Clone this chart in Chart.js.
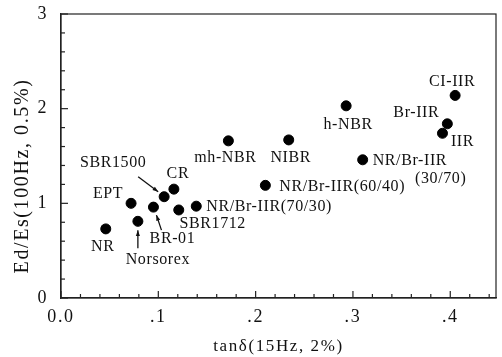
<!DOCTYPE html>
<html>
<head>
<meta charset="utf-8">
<script src="https://cdn.jsdelivr.net/npm/chart.js@4.4.1/dist/chart.umd.min.js"></script>
<style>
  html, body { margin: 0; padding: 0; background: #fff; }
  #wrap { width: 502px; height: 357px; }
</style>
</head>
<body>
<div id="wrap"><canvas id="c"></canvas></div>
<script>
// rubber grades: loss tangent vs dynamic/static modulus ratio
const names = ['NR', 'EPT', 'Norsorex', 'BR-01', 'SBR1500', 'CR', 'SBR1712', 'NR/Br-IIR(70/30)',
               'mh-NBR', 'NIBR', 'h-NBR', 'NR/Br-IIR(60/40)', 'NR/Br-IIR', 'Br-IIR', 'IIR', 'CI-IIR'];
const tanD = [0.046, 0.072, 0.079, 0.095, 0.106, 0.116, 0.121, 0.139,
              0.172, 0.234, 0.293, 0.210, 0.310, 0.397, 0.392, 0.405];
const edEs = [0.73, 1.00, 0.81, 0.96, 1.07, 1.15, 0.93, 0.97,
              1.66, 1.67, 2.03, 1.19, 1.46, 1.84, 1.74, 2.14];
const xTicks = [0, 0.1, 0.2, 0.3, 0.4];
const yTicks = [0, 1, 2, 3];
const yTitle = 'Ed/Es(100Hz, 0.5%)';

// label placement relative to its point (px), align
const labelPos = [[-3, 18, 'center'], [-23, -10, 'center'], [20, 38, 'center'], [19, 32, 'center'],
                  [-51, -34, 'center'], [4, -15, 'center'], [34, 14, 'center'], [10, 1, 'left'],
                  [-3, 17, 'center'], [2, 18, 'center'], [2, 19, 'center'], [14, 1, 'left'],
                  [10, 1, 'left'], [-31, -11, 'center'], [20, 9, 'center'], [-3, -14, 'center']];
const extraLabels = [{ idx: 12, text: '(30/70)', dx: 78, dy: 19 }];
// arrows: [point index, from dx, from dy, to dx, to dy]
const arrows = [[4, -26, -20, -6, -5], [3, 8, 23, 3, 8], [2, 0, 27, 0, 9]];

const FONT = '"Liberation Serif", "DejaVu Serif", serif';

const annotate = {
    id: 'annotate',
    beforeDraw(chart) { chart.ctx.letterSpacing = '1.6px'; },
    afterDatasetsDraw(chart) {
        const ctx = chart.ctx; const a = chart.chartArea;
        const xs = chart.scales.x; const ys = chart.scales.y;
        ctx.save();
        ctx.strokeStyle = '#222'; ctx.lineWidth = 1.2;
        ctx.strokeRect(a.left, a.top, a.right - a.left, a.bottom - a.top);
        // inward ticks
        for (let i = 0; i <= 22; i++) {
            const px = xs.getPixelForValue(i * 0.02);
            if (px > a.right - 1) break;
            const len = i % 5 === 0 ? 7 : 4;
            ctx.beginPath(); ctx.moveTo(px, a.bottom); ctx.lineTo(px, a.bottom - len); ctx.stroke();
        }
        for (let i = 0; i <= 15; i++) {
            const py = ys.getPixelForValue(i * 0.2);
            const len = i % 5 === 0 ? 7 : 4;
            ctx.beginPath(); ctx.moveTo(a.left, py); ctx.lineTo(a.left + len, py); ctx.stroke();
        }
        // y title, a bit below centre like the original
        ctx.save();
        ctx.translate(28, (a.top + a.bottom) / 2 + 20);
        ctx.rotate(-Math.PI / 2);
        ctx.fillStyle = '#111'; ctx.font = '20px ' + FONT;
        ctx.textAlign = 'center'; ctx.textBaseline = 'alphabetic';
        ctx.fillText(yTitle, 0, 0);
        ctx.restore();
        // labels
        const meta = chart.getDatasetMeta(0);
        ctx.letterSpacing = '0.6px';
        ctx.fillStyle = '#111'; ctx.font = '16px ' + FONT; ctx.textBaseline = 'middle';
        names.forEach((n, i) => {
            const p = meta.data[i]; const [dx, dy, al] = labelPos[i];
            ctx.textAlign = al;
            ctx.fillText(n, p.x + dx, p.y + dy);
        });
        extraLabels.forEach(l => {
            const p = meta.data[l.idx];
            ctx.textAlign = 'center';
            ctx.fillText(l.text, p.x + l.dx, p.y + l.dy);
        });
        // arrows
        ctx.lineWidth = 1.3; ctx.strokeStyle = '#111';
        arrows.forEach(([i, fx, fy, tx, ty]) => {
            const p = meta.data[i];
            const x1 = p.x + fx, y1 = p.y + fy, x2 = p.x + tx, y2 = p.y + ty;
            ctx.beginPath(); ctx.moveTo(x1, y1); ctx.lineTo(x2, y2); ctx.stroke();
            const ang = Math.atan2(y2 - y1, x2 - x1);
            ctx.beginPath();
            ctx.moveTo(x2, y2);
            ctx.lineTo(x2 - 6 * Math.cos(ang - 0.35), y2 - 6 * Math.sin(ang - 0.35));
            ctx.lineTo(x2 - 6 * Math.cos(ang + 0.35), y2 - 6 * Math.sin(ang + 0.35));
            ctx.closePath(); ctx.fill();
        });
        ctx.restore();
    },
    afterDraw(chart) { chart.ctx.letterSpacing = '0px'; }
};

new Chart(document.getElementById('c'), {
    type: 'scatter',
    data: {
        datasets: [{
            data: tanD.map((x, i) => ({ x: x, y: edEs[i] })),
            backgroundColor: '#000', borderColor: '#000',
            pointRadius: 5, pointHoverRadius: 5
        }]
    },
    options: {
        responsive: true, maintainAspectRatio: false, animation: false,
        layout: { padding: { top: 14, right: 5, left: 0, bottom: 0 } },
        plugins: { legend: { display: false }, tooltip: { enabled: false } },
        scales: {
            x: {
                type: 'linear', min: 0, max: 0.447,
                afterBuildTicks: s => { s.ticks = xTicks.map(v => ({ value: v })); },
                afterFit: s => { s.height = 59; s.paddingLeft = 0; s.paddingRight = 0; },
                grid: { display: false, drawTicks: false },
                border: { display: true, color: '#222', width: 1.2 },
                ticks: {
                    padding: 8, maxRotation: 0, color: '#111',
                    font: { family: FONT, size: 18 },
                    callback: v => v === 0 ? '0.0' : '.' + Math.round(v * 10)
                },
                title: { display: true, text: 'tanδ(15Hz, 2%)', color: '#111',
                         font: { family: FONT, size: 17 }, padding: { top: 0, bottom: 0 } }
            },
            y: {
                type: 'linear', min: 0, max: 3,
                afterBuildTicks: s => { s.ticks = yTicks.map(v => ({ value: v })); },
                afterFit: s => { s.width = 61; s.paddingTop = 0; s.paddingBottom = 0; },
                grid: { display: false, drawTicks: false },
                border: { display: true, color: '#222', width: 1.2 },
                ticks: { padding: 13, color: '#111', font: { family: FONT, size: 18 } },
                title: { display: false }
            }
        }
    },
    plugins: [annotate]
});
</script>
</body>
</html>
